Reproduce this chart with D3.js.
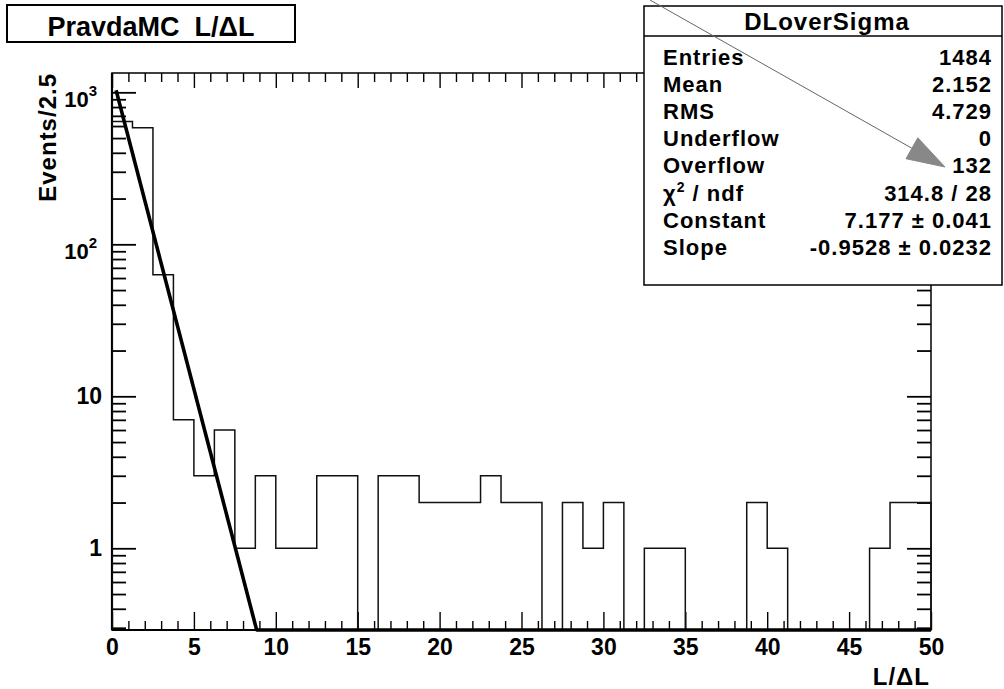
<!DOCTYPE html>
<html>
<head>
<meta charset="utf-8">
<script src="https://cdn.jsdelivr.net/npm/d3@7"></script>
<style>
  html, body { margin: 0; padding: 0; background: #fff; }
  svg text { font-family: "Liberation Sans", Arial, Helvetica, sans-serif; font-weight: bold; fill: #000; white-space: pre; }
</style>
</head>
<body>
<svg id="chart" width="1004" height="689"></svg>
<script>
// ---- histogram data: L/dL, 40 bins over [0, 50] ----
const histTitle = "PravdaMC  L/\u0394L";
const histName = "DLoverSigma";
const xTitle = "L/\u0394L";
const yTitle = "Events/2.5";
const xRange = [0, 50];
const binCounts = [642, 585, 63, 7, 3, 6, 1, 3, 1, 1,
                   3, 3, 0, 3, 3, 2, 2, 2, 3, 2,
                   2, 0, 2, 1, 2, 0, 1, 1, 0, 0,
                   0, 2, 1, 0, 0, 0, 0, 1, 2, 2];
const xTickValues = [0, 5, 10, 15, 20, 25, 30, 35, 40, 45, 50];
const xTickLabels = ["0", "5", "10", "15", "20", "25", "30", "35", "40", "45", "50"];
const yDecades = [1, 10, 100, 1000];
const yTickBase = ["1", "10", "10", "10"];
const yTickExp = ["", "", "2", "3"];

// ---- statistics / fit results ----
const statsLabels = ["Entries", "Mean", "RMS", "Underflow", "Overflow", "\u03C7|2| / ndf", "Constant", "Slope"];
const statsValues = ["1484", "2.152", "4.729", "0", "132", "314.8 / 28", "7.177 \u00B1 0.041", "-0.9528 \u00B1 0.0232"];
const fitConstant = 7.177;
const fitSlope = -0.9528;
const fitRange = [0.25, 50];

// ---- layout ----
const frame = { left: 112, right: 931, top: 73, bottom: 630 };
const yLimits = [0.29, 1340];

const svg = d3.select("#chart");
const x = d3.scaleLinear().domain(xRange).range([frame.left, frame.right]);
const y = d3.scaleLog().domain(yLimits).range([frame.bottom, frame.top]);

svg.append("defs").append("clipPath").attr("id", "frameClip")
  .append("rect")
  .attr("x", frame.left).attr("y", frame.top - 1)
  .attr("width", frame.right - frame.left + 2)
  .attr("height", frame.bottom - frame.top + 3);

// ---- frame ----
svg.append("rect")
  .attr("x", frame.left).attr("y", frame.top)
  .attr("width", frame.right - frame.left)
  .attr("height", frame.bottom - frame.top)
  .attr("fill", "none").attr("stroke", "#000").attr("stroke-width", 1.5);
svg.append("line")
  .attr("x1", frame.left).attr("x2", frame.left)
  .attr("y1", frame.top).attr("y2", frame.bottom)
  .attr("stroke", "#000").attr("stroke-width", 2.2);
svg.append("line")
  .attr("x1", frame.left).attr("x2", frame.right)
  .attr("y1", frame.bottom).attr("y2", frame.bottom)
  .attr("stroke", "#000").attr("stroke-width", 2);

// ---- ticks ----
const xMinor = d3.range(xRange[0], xRange[1] + 1, 1).filter(v => v % 5 !== 0);
const yMinor = [];
[0.1, 1, 10, 100, 1000].forEach(d => {
  for (let k = 2; k <= 9; k++) {
    const v = k * d;
    if (v >= yLimits[0] && v <= yLimits[1]) yMinor.push(v);
  }
});

function tickGroup(axis, tx, ty, sw) {
  const g = svg.append("g").attr("transform", `translate(${tx},${ty})`).call(axis);
  g.select(".domain").remove();
  g.selectAll(".tick line").attr("stroke", "#000").attr("stroke-width", sw);
  g.selectAll(".tick text").remove();
  return g;
}
tickGroup(d3.axisTop(x).tickValues(xTickValues).tickSize(18), 0, frame.bottom, 1.4);
tickGroup(d3.axisTop(x).tickValues(xMinor).tickSize(9), 0, frame.bottom, 1.4);
tickGroup(d3.axisBottom(x).tickValues(xTickValues).tickSize(15), 0, frame.top, 1.4);
tickGroup(d3.axisBottom(x).tickValues(xMinor).tickSize(9), 0, frame.top, 1.4);
tickGroup(d3.axisRight(y).tickValues(yDecades).tickSize(24), frame.left, 0, 1.8);
tickGroup(d3.axisRight(y).tickValues(yMinor).tickSize(14), frame.left, 0, 1.8);
tickGroup(d3.axisLeft(y).tickValues(yDecades).tickSize(24), frame.right, 0, 1.8);
tickGroup(d3.axisLeft(y).tickValues(yMinor).tickSize(14), frame.right, 0, 1.8);

// ---- x tick labels ----
const xLab = svg.append("g")
  .attr("transform", `translate(0,${frame.bottom})`)
  .call(d3.axisBottom(x).tickValues(xTickValues)
    .tickFormat((d, i) => xTickLabels[i]).tickSize(0).tickPadding(9));
xLab.select(".domain").remove();
xLab.selectAll(".tick text")
  .style("font-size", "23px").style("font-family", "'Liberation Sans', Arial, sans-serif")
  .style("font-weight", "bold").attr("fill", "#000");

// ---- y tick labels ----
yDecades.forEach((v, i) => {
  const yy = y(v);
  if (yTickExp[i] === "") {
    svg.append("text")
      .attr("x", frame.left - 10).attr("y", yy + 8)
      .attr("text-anchor", "end").style("font-size", "23px")
      .text(yTickBase[i]);
  } else {
    const t = svg.append("text")
      .attr("x", frame.left - 15).attr("y", yy + 15)
      .attr("text-anchor", "end").style("font-size", "22px");
    t.append("tspan").text(yTickBase[i]);
    t.append("tspan").attr("dy", -11).style("font-size", "15px").text(yTickExp[i]);
  }
});

// ---- axis titles ----
svg.append("text")
  .attr("transform", `translate(56,${frame.top}) rotate(-90)`)
  .attr("text-anchor", "end").style("font-size", "24px").style("letter-spacing", "1px")
  .text(yTitle);
svg.append("text")
  .attr("x", frame.right - 1).attr("y", 685)
  .attr("text-anchor", "end").style("font-size", "24px").style("letter-spacing", "1px")
  .text(xTitle);

// ---- histogram outline ----
const binW = (xRange[1] - xRange[0]) / binCounts.length;
const yOf = c => c > 0 ? y(c) : frame.bottom;
const pts = [[x(xRange[0]), frame.bottom]];
binCounts.forEach((c, i) => {
  const lo = xRange[0] + i * binW, hi = lo + binW;
  pts.push([x(lo), yOf(c)], [x(hi), yOf(c)]);
});
pts.push([x(xRange[1]), frame.bottom]);
svg.append("path")
  .attr("d", d3.line()(pts))
  .attr("fill", "none").attr("stroke", "#111").attr("stroke-width", 1.5)
  .attr("clip-path", "url(#frameClip)");

// ---- exponential fit ----
const fitX = d3.range(fitRange[0], fitRange[1], 0.05).concat([fitRange[1]]);
const fitPts = fitX.map(v => {
  const f = Math.max(Math.exp(fitConstant + fitSlope * v), yLimits[0]);
  return [x(v), y(f)];
});
svg.append("path")
  .attr("d", d3.line()(fitPts))
  .attr("fill", "none").attr("stroke", "#000").attr("stroke-width", 3.6)
  .attr("stroke-linejoin", "round")
  .attr("clip-path", "url(#frameClip)");

// ---- title box ----
svg.append("rect")
  .attr("x", 7).attr("y", 5).attr("width", 288).attr("height", 37)
  .attr("fill", "#fff").attr("stroke", "#000").attr("stroke-width", 2);
svg.append("text")
  .attr("x", 151).attr("y", 36).attr("text-anchor", "middle")
  .attr("xml:space", "preserve")
  .style("font-size", "27px")
  .text(histTitle);

// ---- statistics box ----
const sb = { x: 644, y: 6, w: 358, h: 279, head: 36 };
svg.append("rect")
  .attr("x", sb.x).attr("y", sb.y).attr("width", sb.w).attr("height", sb.h)
  .attr("fill", "#fff").attr("stroke", "#000").attr("stroke-width", 1.5);
svg.append("line")
  .attr("x1", sb.x).attr("x2", sb.x + sb.w)
  .attr("y1", sb.head).attr("y2", sb.head)
  .attr("stroke", "#000").attr("stroke-width", 1.5);
svg.append("text")
  .attr("x", 827).attr("y", 30).attr("text-anchor", "middle")
  .style("font-size", "24px").style("letter-spacing", "1px")
  .text(histName);

statsLabels.forEach((lab, i) => {
  const by = 65 + i * 27.1;
  const t = svg.append("text").attr("x", 663).attr("y", by)
    .style("font-size", "22px").style("letter-spacing", "1px");
  const parts = lab.split("|");
  if (parts.length === 3) {
    t.append("tspan").text(parts[0]);
    t.append("tspan").attr("dy", -9).style("font-size", "14px").text(parts[1]);
    t.append("tspan").attr("dy", 9).text(parts[2]);
  } else {
    t.text(lab);
  }
  svg.append("text").attr("x", 992).attr("y", by)
    .attr("text-anchor", "end")
    .style("font-size", "22px").style("letter-spacing", "1px")
    .text(statsValues[i]);
});

// ---- annotation arrow ----
const arrowFrom = [650, 0], arrowTo = [945, 167];
const dx = arrowTo[0] - arrowFrom[0], dy = arrowTo[1] - arrowFrom[1];
const len = Math.hypot(dx, dy), ux = dx / len, uy = dy / len;
const headLen = 38, headHalf = 12;
const bx = arrowTo[0] - ux * headLen, by0 = arrowTo[1] - uy * headLen;
svg.append("line")
  .attr("x1", arrowFrom[0]).attr("y1", arrowFrom[1])
  .attr("x2", bx).attr("y2", by0)
  .attr("stroke", "#666").attr("stroke-width", 1);
svg.append("path")
  .attr("d", d3.line()([
    arrowTo,
    [bx - uy * headHalf, by0 + ux * headHalf],
    [bx + uy * headHalf, by0 - ux * headHalf]
  ]) + "Z")
  .attr("fill", "#888").attr("stroke", "#888").attr("stroke-width", 1);
</script>
</body>
</html>
